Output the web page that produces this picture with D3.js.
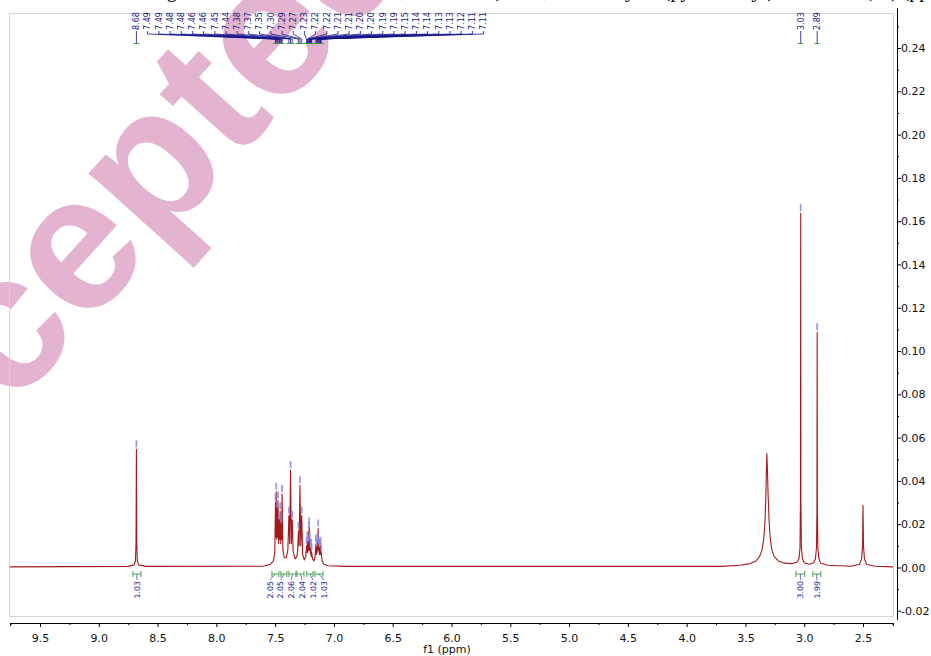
<!DOCTYPE html>
<html>
<head>
<meta charset="utf-8">
<script src="https://cdnjs.cloudflare.com/ajax/libs/d3/7.8.5/d3.min.js"></script>
<style>
  body { margin: 0; background: #fff; }
  svg { display: block; }
</style>
</head>
<body>
<div id="chart"></div>
<script>
var w = 931;
var h = 656;

// axis ticks
var xTicks = [9.5, 9.0, 8.5, 8.0, 7.5, 7.0, 6.5, 6.0, 5.5, 5.0, 4.5, 4.0, 3.5, 3.0, 2.5];
var yTicks = [-0.02, 0.00, 0.02, 0.04, 0.06, 0.08, 0.10, 0.12, 0.14, 0.16, 0.18, 0.20, 0.22, 0.24];

// spectrum trace: [ppm, intensity]
var spectrum = [
  [9.755, 0.0003], [8.75, 0.0005], [8.70, 0.0012], [8.688, 0.003], [8.683, 0.012],
  [8.680, 0.0546], [8.677, 0.012], [8.672, 0.003], [8.66, 0.0012], [8.60, 0.0005],
  [7.60, 0.0006], [7.54, 0.0015], [7.515, 0.003], [7.503, 0.007],
  [7.497, 0.030], [7.494, 0.014], [7.491, 0.035], [7.486, 0.013], [7.482, 0.027],
  [7.479, 0.014], [7.476, 0.031], [7.470, 0.011], [7.463, 0.022], [7.460, 0.013],
  [7.457, 0.026], [7.452, 0.011], [7.448, 0.020], [7.445, 0.013], [7.441, 0.034],
  [7.434, 0.008], [7.422, 0.0045], [7.405, 0.0045], [7.392, 0.008],
  [7.383, 0.024], [7.376, 0.011], [7.369, 0.045], [7.362, 0.011], [7.355, 0.022],
  [7.346, 0.007], [7.330, 0.004], [7.315, 0.005], [7.308, 0.008],
  [7.302, 0.017], [7.296, 0.010], [7.289, 0.038], [7.282, 0.010], [7.274, 0.024],
  [7.266, 0.006], [7.252, 0.0035], [7.240, 0.005],
  [7.232, 0.010], [7.229, 0.007], [7.226, 0.0125], [7.223, 0.007], [7.220, 0.011],
  [7.217, 0.008], [7.214, 0.017], [7.212, 0.012], [7.210, 0.019], [7.207, 0.008],
  [7.205, 0.012], [7.202, 0.007], [7.200, 0.009], [7.197, 0.006], [7.195, 0.009],
  [7.192, 0.005], [7.190, 0.007], [7.182, 0.004], [7.170, 0.003], [7.160, 0.005],
  [7.153, 0.011], [7.149, 0.006], [7.145, 0.009], [7.142, 0.007], [7.139, 0.012],
  [7.136, 0.009], [7.134, 0.018], [7.131, 0.008], [7.128, 0.010], [7.124, 0.006],
  [7.121, 0.009], [7.117, 0.006], [7.114, 0.010], [7.111, 0.006], [7.108, 0.007],
  [7.100, 0.003], [7.085, 0.0015], [7.05, 0.0008], [6.90, 0.0005],
  [3.70, 0.0005], [3.55, 0.0010], [3.46, 0.0018], [3.41, 0.003], [3.38, 0.005],
  [3.36, 0.008], [3.345, 0.013], [3.335, 0.020], [3.327, 0.032], [3.322, 0.044],
  [3.318, 0.0527], [3.313, 0.045], [3.307, 0.033], [3.30, 0.023], [3.29, 0.014],
  [3.275, 0.008], [3.255, 0.005], [3.22, 0.003], [3.17, 0.002], [3.10, 0.0018],
  [3.06, 0.0025], [3.045, 0.004], [3.036, 0.009], [3.032, 0.03], [3.030, 0.1637],
  [3.028, 0.03], [3.024, 0.009], [3.015, 0.004], [3.00, 0.0022], [2.96, 0.0015],
  [2.92, 0.0022], [2.905, 0.004], [2.896, 0.009], [2.892, 0.025], [2.890, 0.1087],
  [2.888, 0.025], [2.884, 0.009], [2.875, 0.004], [2.86, 0.002], [2.80, 0.001],
  [2.60, 0.0006], [2.53, 0.0015], [2.512, 0.004], [2.504, 0.010], [2.500, 0.0287],
  [2.496, 0.010], [2.488, 0.004], [2.47, 0.0015], [2.40, 0.0006], [2.245, 0.0003]
];

// picked peaks
var peakLabels = ["8.68", "7.49", "7.49", "7.48", "7.48", "7.46", "7.46", "7.45", "7.44",
  "7.38", "7.37", "7.35", "7.30", "7.29", "7.27", "7.23", "7.22", "7.22", "7.21", "7.21",
  "7.20", "7.20", "7.19", "7.19", "7.15", "7.14", "7.14", "7.13", "7.13", "7.12", "7.11",
  "7.11", "3.03", "2.89"];
var peakPpm = [8.680, 7.497, 7.491, 7.482, 7.476, 7.463, 7.457, 7.448, 7.441,
  7.383, 7.369, 7.355, 7.302, 7.289, 7.274, 7.232, 7.226, 7.220, 7.214, 7.210,
  7.205, 7.200, 7.195, 7.190, 7.153, 7.145, 7.139, 7.134, 7.128, 7.121, 7.114,
  7.108, 3.030, 2.890];
var peakHeight = [0.0546, 0.030, 0.035, 0.027, 0.031, 0.022, 0.026, 0.020, 0.034,
  0.024, 0.045, 0.022, 0.017, 0.038, 0.024, 0.010, 0.0125, 0.011, 0.017, 0.019,
  0.012, 0.009, 0.009, 0.007, 0.011, 0.009, 0.012, 0.018, 0.010, 0.009, 0.010,
  0.007, 0.1637, 0.1087];
var peakGroup = [0, 1, 1, 1, 1, 1, 1, 1, 1, 1, 1, 1, 1, 1, 1, 1, 1, 1, 1, 1,
  1, 1, 1, 1, 1, 1, 1, 1, 1, 1, 1, 1, 2, 2];

// integrals
var intFrom = [8.71, 7.527, 7.451, 7.383, 7.315, 7.230, 7.162, 3.07, 2.927];
var intTo = [8.641, 7.468, 7.40, 7.323, 7.255, 7.178, 7.093, 2.995, 2.859];
var intValues = ["1.03", "2.05", "2.05", "2.06", "2.04", "1.02", "1.03", "3.00", "1.99"];
var intGroup = [0, 1, 1, 1, 1, 1, 1, 2, 2];

var font = "DejaVu Sans";

//Scales
var xScale = d3.scaleLinear().domain([9.755, 2.245]).range([10, 893]);
var yScale = d3.scaleLinear().domain([-0.0238, 0.2585]).range([619, 8]);

//spread crowded labels evenly, centred on their group, right of the previous label
function layoutLabels(xs, groups, gap) {
  var out = xs.slice();
  var lastX = -Infinity;
  d3.group(d3.range(xs.length), function(i) { return groups[i]; }).forEach(function(idx) {
    var crowded = idx.some(function(i, k) { return k > 0 && Math.abs(xs[i] - xs[idx[k - 1]]) < gap; });
    if (crowded) {
      var mid = d3.mean(idx, function(i) { return xs[i]; });
      var start = Math.max(mid - gap * (idx.length - 1) / 2, lastX + gap);
      idx.forEach(function(i, k) { out[i] = start + k * gap; });
    }
    lastX = out[idx[idx.length - 1]];
  });
  return out;
}

var svg = d3.select("#chart").append("svg")
  .attr("width", w)
  .attr("height", h);

svg.append("rect").attr("width", w).attr("height", h).attr("fill", "#fff");

// caption line, mostly above the top of the page
svg.append("text")
  .attr("x", 150)
  .attr("y", -3)
  .attr("font-family", "Liberation Serif")
  .attr("font-size", "20px")
  .attr("fill", "#000")
  .text("Figure S5. 1H NMR (400 MHz, DMSO-d6) of N,N-dimethyl-4-(pyridin-2-yl)benzamide (2e) (ppm) of product (3a)");

// watermark
svg.append("text")
  .attr("transform", "translate(-152,592) rotate(-48)")
  .attr("font-family", "Liberation Sans")
  .attr("font-weight", "bold")
  .attr("font-size", "192px")
  .attr("fill", "#e4b3cf")
  .text("Accepted Manuscript");

// plot frame
svg.append("rect")
  .attr("x", 9.5).attr("y", 13.5)
  .attr("width", 884).attr("height", 603)
  .attr("fill", "none")
  .attr("stroke", "#d4d4d4");

//X axis
var xMinor = d3.range(9.75, 2.24, -0.25).filter(function(v) { return Math.abs(v * 2 - Math.round(v * 2)) > 0.1; });
svg.append("g")
  .attr("transform", "translate(0,623)")
  .call(d3.axisBottom(xScale).tickValues(xMinor).tickSize(2).tickSizeOuter(3).tickFormat(""));
var gx = svg.append("g")
  .attr("transform", "translate(0,623)")
  .call(d3.axisBottom(xScale).tickValues(xTicks).tickSize(4).tickSizeOuter(3).tickPadding(7)
    .tickFormat(function(d) { return d.toFixed(1); }));
gx.selectAll("text").attr("font-family", font).attr("font-size", "11px").attr("fill", "#111");
svg.append("text")
  .attr("x", 447).attr("y", 653)
  .attr("text-anchor", "middle")
  .attr("font-family", font).attr("font-size", "11px").attr("fill", "#111")
  .text("f1 (ppm)");

//Y axis (right)
var yMinor = d3.range(-0.01, 0.26, 0.02);
svg.append("g")
  .attr("transform", "translate(897,0)")
  .call(d3.axisRight(yScale).tickValues(yMinor).tickSize(2).tickSizeOuter(0).tickFormat(""));
var gy = svg.append("g")
  .attr("transform", "translate(897,0)")
  .call(d3.axisRight(yScale).tickValues(yTicks).tickSize(4).tickSizeOuter(0).tickPadding(0)
    .tickFormat(function(d) { return d.toFixed(2); }));
gy.selectAll("text").attr("font-family", font).attr("font-size", "11px").attr("fill", "#111");

//spectrum
var line = d3.line()
  .x(function(d) { return xScale(d[0]); })
  .y(function(d) { return yScale(d[1]); });
svg.append("path")
  .datum(spectrum)
  .attr("d", line)
  .attr("fill", "none")
  .attr("stroke", "#a3191c")
  .attr("stroke-width", 1.1)
  .attr("stroke-linejoin", "round");

//peak markers
var peakX = peakPpm.map(function(p) { return xScale(p); });
svg.selectAll(".pmark")
  .data(peakPpm)
  .enter().append("line")
  .attr("class", "pmark")
  .attr("x1", function(d, i) { return peakX[i]; })
  .attr("x2", function(d, i) { return peakX[i]; })
  .attr("y1", function(d, i) { return yScale(peakHeight[i]) - 2; })
  .attr("y2", function(d, i) { return yScale(peakHeight[i]) - 9; })
  .attr("stroke", "#8c8ce0")
  .attr("stroke-width", 1.8)
  .attr("opacity", 0.85);

//peak labels along the top
var labelX = layoutLabels(peakX, peakGroup, 11.2);
svg.selectAll(".pleader")
  .data(peakPpm)
  .enter().append("path")
  .attr("class", "pleader")
  .attr("d", function(d, i) {
    return "M" + labelX[i] + ",31V34L" + peakX[i] + ",39V43";
  })
  .attr("fill", "none")
  .attr("stroke", "#14148c")
  .attr("stroke-width", 0.8);
svg.selectAll(".ptick")
  .data(peakPpm)
  .enter().append("path")
  .attr("class", "ptick")
  .attr("d", function(d, i) { return "M" + (peakX[i] - 2.5) + ",43.5H" + (peakX[i] + 2.5); })
  .attr("stroke", "#3d9a3d")
  .attr("stroke-width", 1);
svg.selectAll(".plabel")
  .data(peakLabels)
  .enter().append("text")
  .attr("class", "plabel")
  .attr("transform", function(d, i) { return "translate(" + labelX[i] + ",30) rotate(-90)"; })
  .attr("dy", "0.35em")
  .attr("font-family", font)
  .attr("font-size", "8px")
  .attr("fill", "#18187e")
  .text(function(d) { return d; });

//integrals along the baseline
var intX1 = intFrom.map(function(p) { return xScale(p); });
var intX2 = intTo.map(function(p) { return xScale(p); });
var intMid = intX1.map(function(x, i) { return (x + intX2[i]) / 2; });
var intLabelX = layoutLabels(intMid, intGroup, 10.8);
svg.selectAll(".ibracket")
  .data(intValues)
  .enter().append("path")
  .attr("class", "ibracket")
  .attr("d", function(d, i) {
    return "M" + intX1[i] + ",571V577M" + intX1[i] + ",574H" + intX2[i] + "M" + intX2[i] + ",571V577";
  })
  .attr("fill", "none")
  .attr("stroke", "#48a448")
  .attr("stroke-width", 1);
svg.selectAll(".ileader")
  .data(intValues)
  .enter().append("path")
  .attr("class", "ileader")
  .attr("d", function(d, i) { return "M" + intMid[i] + ",574L" + intLabelX[i] + ",580"; })
  .attr("fill", "none")
  .attr("stroke", "#4a4ab4")
  .attr("stroke-width", 0.8);
svg.selectAll(".ilabel")
  .data(intValues)
  .enter().append("text")
  .attr("class", "ilabel")
  .attr("transform", function(d, i) { return "translate(" + intLabelX[i] + ",581) rotate(-90)"; })
  .attr("dy", "0.35em")
  .attr("text-anchor", "end")
  .attr("font-family", font)
  .attr("font-size", "7.8px")
  .attr("fill", "#22229a")
  .text(function(d) { return d; });
</script>
</body>
</html>
